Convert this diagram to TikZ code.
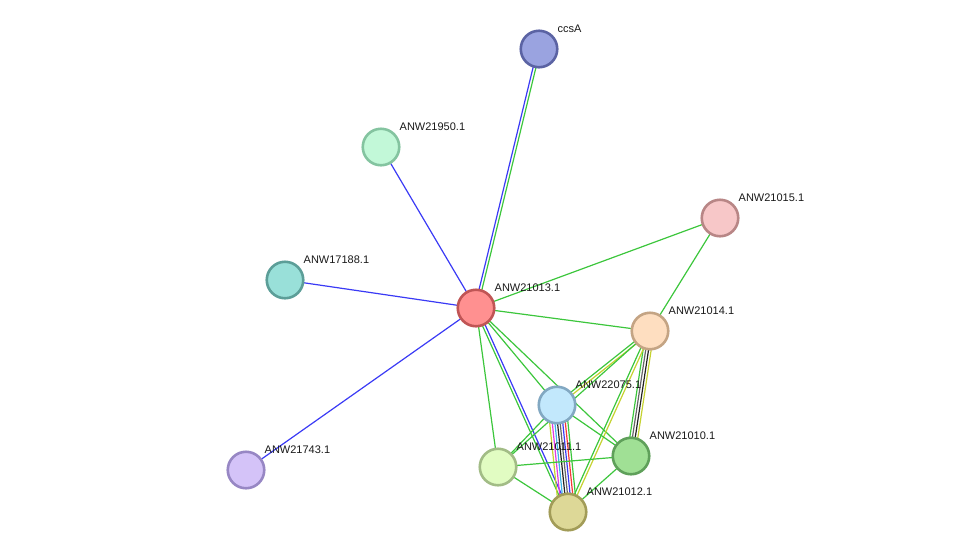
\documentclass[tikz,border=0pt]{standalone}
\usepackage{fontspec}
\setmainfont{Liberation Sans}
\usetikzlibrary{calc,backgrounds}

\definecolor{lgreen}{HTML}{3CC63C}
\definecolor{lblue}{HTML}{3A3AF5}
\definecolor{lyellow}{HTML}{C5D230}
\definecolor{lblack}{HTML}{222222}
\definecolor{lgray}{HTML}{666666}
\definecolor{lmagenta}{HTML}{E03CE0}
\definecolor{lcyan}{HTML}{3CB4E6}
\definecolor{lred}{HTML}{F53A3A}
% node fill / border
\definecolor{fccsA}{HTML}{9AA3E0}\definecolor{dccsA}{HTML}{5B63A3}
\definecolor{fa}{HTML}{C2F8D8}\definecolor{da}{HTML}{84C4A0}
\definecolor{fb}{HTML}{F7C7C8}\definecolor{db}{HTML}{B88686}
\definecolor{fc}{HTML}{99E0D9}\definecolor{dc}{HTML}{5C9E98}
\definecolor{fd}{HTML}{FF9090}\definecolor{dd}{HTML}{C05555}
\definecolor{fe}{HTML}{FEDEC0}\definecolor{de}{HTML}{C4A484}
\definecolor{ff}{HTML}{C2E8FC}\definecolor{df}{HTML}{82A8C2}
\definecolor{fg}{HTML}{A0E095}\definecolor{dg}{HTML}{5FA05A}
\definecolor{fh}{HTML}{E1FCC2}\definecolor{dh}{HTML}{A2BC86}
\definecolor{fi}{HTML}{D4C3F8}\definecolor{di}{HTML}{9787C4}
\definecolor{fj}{HTML}{DDD897}\definecolor{dj}{HTML}{A29C58}

\tikzset{
  prot/.style 2 args={circle,minimum size=36.5pt,inner sep=0pt,line width=2.6pt,fill=#1,draw=#2},
  lbl/.style={font=\fontsize{11pt}{13pt}\selectfont,text=black!90,anchor=west,inner sep=0pt,xshift=18.5pt,yshift=20.5pt},
  lnk/.style={line width=1.2pt}
}
% parallel lines between two nodes: list of colour/offset
\newcommand\lnks[3]{\foreach \c/\o in {#3}
  \draw[lnk,\c] ($(#1.center)!\o pt!90:(#2.center)$) -- ($(#2.center)!\o pt!-90:(#1.center)$);}

\begin{document}
\begin{tikzpicture}[x=1pt,y=-1pt]
  \useasboundingbox (0,0) rectangle (976,558);
  \node[prot={fccsA}{dccsA}] (ccsA) at (539,49) {};
  \node[prot={fa}{da}] (p21950) at (381,147) {};
  \node[prot={fb}{db}] (p21015) at (720,218) {};
  \node[prot={fc}{dc}] (p17188) at (285,280) {};
  \node[prot={fd}{dd}] (p21013) at (476,308) {};
  \node[prot={fe}{de}] (p21014) at (650,331) {};
  \node[prot={ff}{df}] (p22075) at (557,405) {};
  \node[prot={fg}{dg}] (p21010) at (631,456) {};
  \node[prot={fh}{dh}] (p21011) at (498,467) {};
  \node[prot={fi}{di}] (p21743) at (246,470) {};
  \node[prot={fj}{dj}] (p21012) at (568,512) {};

  \begin{scope}[on background layer]
    \lnks{p21013}{ccsA}{lblue/1.4,lgreen/-1.4}
    \lnks{p21013}{p21950}{lblue/0}
    \lnks{p21013}{p17188}{lblue/0}
    \lnks{p21013}{p21743}{lblue/0}
    \lnks{p21013}{p21015}{lgreen/0}
    \lnks{p21013}{p21014}{lgreen/0}
    \lnks{p21013}{p22075}{lgreen/0}
    \lnks{p21013}{p21010}{lgreen/0}
    \lnks{p21013}{p21011}{lgreen/0}
    \lnks{p21013}{p21012}{lblue/1.4,lgreen/-1.4}
    \lnks{p21015}{p21014}{lgreen/0}
    \lnks{p21014}{p22075}{lgreen/-1.4,lyellow/1.4}
    \lnks{p21014}{p21011}{lgreen/0}
    \lnks{p21014}{p21010}{lgreen/-4,lgray/-1.4,lblack/1.4,lyellow/4}
    \lnks{p21014}{p21012}{lgreen/-1.4,lyellow/1.4}
    \lnks{p22075}{p21012}{lyellow/-9.1,lmagenta/-6.5,lcyan/-3.9,lblack/-1.3,lgray/1.3,lblue/3.9,lred/6.5,lgreen/9.1}
    \lnks{p22075}{p21010}{lgreen/0}
    \lnks{p22075}{p21011}{lgreen/0}
    \lnks{p21011}{p21010}{lgreen/0}
    \lnks{p21011}{p21012}{lgreen/0}
    \lnks{p21010}{p21012}{lgreen/0}
  \end{scope}

  \node[lbl] at (ccsA) {ccsA};
  \node[lbl] at (p21950) {ANW21950.1};
  \node[lbl] at (p21015) {ANW21015.1};
  \node[lbl] at (p17188) {ANW17188.1};
  \node[lbl] at (p21013) {ANW21013.1};
  \node[lbl] at (p21014) {ANW21014.1};
  \node[lbl] at (p22075) {ANW22075.1};
  \node[lbl] at (p21010) {ANW21010.1};
  \node[lbl] at (p21011) {ANW21011.1};
  \node[lbl] at (p21743) {ANW21743.1};
  \node[lbl] at (p21012) {ANW21012.1};
\end{tikzpicture}
\end{document}
